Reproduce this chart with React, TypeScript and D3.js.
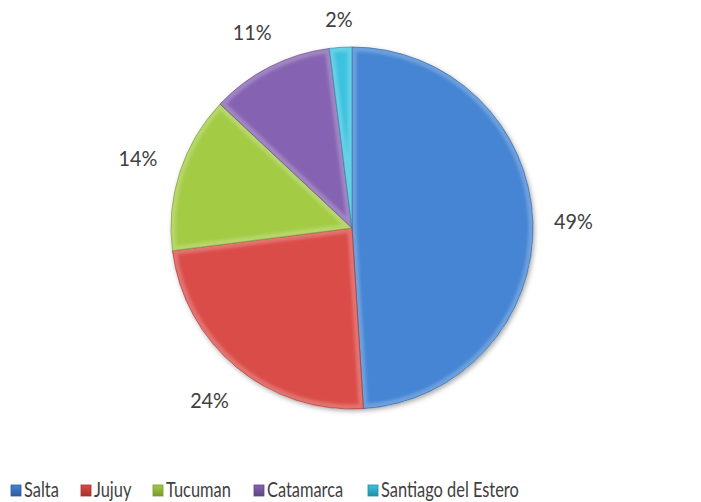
import React from "react";
import * as d3 from "d3";

const categories = ["Salta", "Jujuy", "Tucuman", "Catamarca", "Santiago del Estero"];
const values = [49, 24, 14, 11, 2];
const labels = ["49%", "24%", "14%", "11%", "2%"];
const colorsLight = ["#4585d3", "#da4c48", "#a3cb44", "#8663b2", "#3cc2df"];
const colorsMid = ["#3b76c0", "#c5413d", "#93b93c", "#7857a2", "#2fb0cd"];
const colorsDark = ["#2c5e9e", "#a3322f", "#789a2e", "#5e4584", "#228fa8"];

const W = 701, H = 502;
const cx = 352, cy = 228, r = 181;

export default function App() {
  const pie = d3.pie<number>().sort(null).value((d) => d)(values);
  const arc = d3.arc<d3.PieArcDatum<number>>().innerRadius(0).outerRadius(r);
  const legendX = [10, 80, 152, 253, 367];
  const font = "Lato, 'Open Sans', sans-serif";
  return (
    <svg width={W} height={H} style={{ position: "absolute", left: 0, top: 0 }}>
      <defs>
        {categories.map((c, i) => (
          <linearGradient key={"g" + c} id={`g${i}`} gradientUnits="userSpaceOnUse" x1={cx - r * 0.7} y1={cy - r * 0.7} x2={cx + r * 0.7} y2={cy + r * 0.7}>
            <stop offset="0%" stopColor={colorsLight[i]} />
            <stop offset="50%" stopColor={colorsMid[i]} />
            <stop offset="100%" stopColor={colorsDark[i]} />
          </linearGradient>
        ))}
        {categories.map((c, i) => (
          <linearGradient key={"l" + c} id={`l${i}`} x1="0" y1="0" x2="0" y2="1">
            <stop offset="0%" stopColor={colorsLight[i]} />
            <stop offset="100%" stopColor={colorsDark[i]} />
          </linearGradient>
        ))}
        {pie.map((p, i) => (
          <clipPath key={"c" + i} id={`c${i}`}>
            <path d={arc(p) || ""} transform={`translate(${cx},${cy})`} />
          </clipPath>
        ))}
        <filter id="shadow" x="-20%" y="-20%" width="140%" height="140%">
          <feDropShadow dx="1.5" dy="2" stdDeviation="2.5" floodColor="#000" floodOpacity="0.35" />
        </filter>
        <filter id="blur" x="-10%" y="-10%" width="120%" height="120%">
          <feGaussianBlur stdDeviation="1.5" />
        </filter>
      </defs>
      <rect width={W} height={H} fill="#ffffff" />
      <circle cx={cx} cy={cy} r={r} fill="#ffffff" filter="url(#shadow)" />
      {pie.map((p, i) => (
        <g key={"s" + i}>
          <path d={arc(p) || ""} transform={`translate(${cx},${cy})`} fill={`url(#g${i})`} />
          <g clipPath={`url(#c${i})`}>
            <path d={arc(p) || ""} transform={`translate(${cx},${cy})`} fill="none" stroke="#ffffff" strokeOpacity={0.22} strokeWidth={9} filter="url(#blur)" />
          </g>
          <path d={arc(p) || ""} transform={`translate(${cx},${cy})`} fill="none" stroke={colorsDark[i]} strokeOpacity={0.8} strokeWidth={0.8} strokeLinejoin="round" />
        </g>
      ))}
      {pie.map((p, i) => {
        const a = (p.startAngle + p.endAngle) / 2;
        const s = Math.sin(a), c = Math.cos(a);
        const R = r + 7.4 + Math.abs(s) * 32.6 + Math.abs(c) * 18.6;
        const x = cx + R * s, y = cy - R * c;
        return (
          <text key={"t" + i} transform={`translate(${x},${y}) scale(0.9,1)`} textAnchor="middle" dy="0.36em"
            fontFamily={font} fontSize={22} fill="#404040">
            {labels[i]}
          </text>
        );
      })}
      {categories.map((c, i) => (
        <g key={"lg" + i} transform={`translate(${legendX[i]},${497})`}>
          <rect x={1} y={-12} width={10} height={11} fill={`url(#l${i})`} stroke={colorsDark[i]} strokeWidth={0.8} />
          <text transform="translate(14,0) scale(0.8,1)" fontFamily={font} fontSize={20.5} fill="#404040">{c}</text>
        </g>
      ))}
    </svg>
  );
}
